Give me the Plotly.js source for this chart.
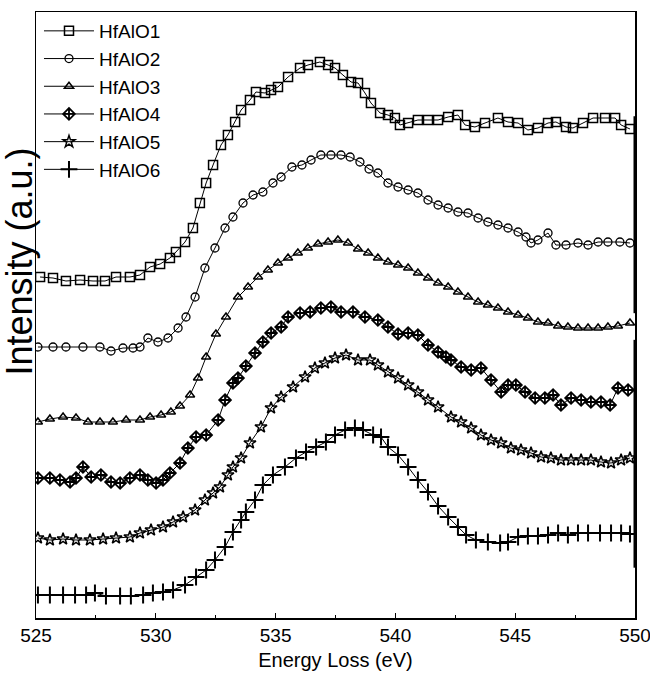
<!DOCTYPE html>
<html>
<head>
<meta charset="utf-8">
<script src="https://cdn.plot.ly/plotly-3.0.1.min.js"></script>
<style>
  html, body { margin: 0; padding: 0; background: #fff; }
  #chart { width: 650px; height: 675px; }
</style>
</head>
<body>
<div id="chart"></div>
<script>
// Energy loss (eV) and intensity (arbitrary units, offset per sample)
const seriesNames = ["HfAlO1", "HfAlO2", "HfAlO3", "HfAlO4", "HfAlO5", "HfAlO6"];

const e1 = [525.17,525.71,526.25,526.84,527.38,527.88,528.34,528.92,529.34,529.76,530.18,530.59,530.84,531.22,531.55,531.84,532.10,532.39,532.72,533.01,533.31,533.56,533.93,534.18,534.56,534.81,535.10,535.52,536.02,536.35,536.85,537.19,537.48,537.81,538.15,538.44,538.73,538.98,539.36,539.69,539.98,540.19,540.53,540.94,541.36,541.78,542.20,542.61,542.91,543.32,543.74,544.28,544.70,545.12,545.53,545.95,546.37,546.70,547.12,547.41,547.83,548.25,548.75,549.17,549.42,549.79];
const i1 = [341,340,337,338,337,337,341,341,343,351,354,360,366,376,390,415,435,453,473,483,496,508,518,526,525,528,531,541,550,553,556,553,550,543,536,535,525,515,505,503,500,493,495,498,498,498,501,503,493,491,495,500,496,495,488,490,495,496,491,490,495,500,500,500,493,489];

const e2 = [525.08,525.71,526.25,526.96,527.67,528.13,528.63,529.05,529.34,529.67,530.09,530.51,530.93,531.26,531.64,532.05,532.47,532.89,533.22,533.64,534.06,534.47,534.89,535.23,535.68,536.10,536.48,536.89,537.31,537.73,538.11,538.52,538.90,539.27,539.69,540.11,540.53,540.94,541.36,541.78,542.20,542.61,543.03,543.45,543.86,544.28,544.70,545.12,545.45,545.66,545.95,546.37,546.70,547.12,547.62,548.04,548.46,548.87,549.37,549.79];
const i2 = [271,271,271,271,271,267,270,270,271,280,276,280,290,301,321,350,370,390,401,415,423,426,435,441,451,453,458,463,463,463,461,456,449,445,435,431,428,425,418,413,410,406,405,400,396,393,390,386,381,375,378,385,373,373,375,373,376,376,376,375];

const e3 = [525.08,525.58,526.13,526.67,527.17,527.67,528.21,528.76,529.34,529.76,530.22,530.63,531.01,531.43,531.76,532.10,532.51,532.93,533.43,533.85,534.27,534.68,535.10,535.52,535.93,536.35,536.77,537.19,537.60,538.02,538.44,538.86,539.27,539.69,540.11,540.53,540.94,541.36,541.78,542.20,542.61,543.03,543.45,543.86,544.28,544.70,545.12,545.53,545.95,546.37,546.79,547.20,547.62,548.04,548.46,548.87,549.29,549.79];
const i3 = [196,199,201,200,196,196,196,198,198,201,203,206,212,223,240,261,284,301,321,331,341,348,355,360,365,370,374,376,378,375,369,365,360,356,353,350,345,340,335,331,326,321,316,313,310,306,303,300,296,295,292,291,290,290,290,291,292,295];

const e4 = [525.08,525.58,526.00,526.42,526.67,526.96,527.30,527.71,528.13,528.51,528.92,529.34,529.67,530.01,530.30,530.59,531.01,531.34,531.68,532.10,532.60,532.89,533.22,533.43,533.76,534.14,534.47,534.81,535.23,535.52,536.02,536.44,536.89,537.31,537.73,538.23,538.73,539.27,539.69,540.11,540.53,540.94,541.36,541.78,542.11,542.32,542.74,543.16,543.57,543.99,544.41,544.70,545.03,545.41,545.83,546.24,546.58,546.91,547.33,547.75,548.16,548.58,548.96,549.29,549.71];
const i4 = [140,140,138,136,140,151,141,143,136,135,140,143,138,135,138,145,155,170,181,183,198,218,235,240,252,265,276,285,291,301,305,306,310,311,306,306,301,298,291,284,285,283,273,266,261,258,251,248,250,238,226,233,233,226,220,220,223,213,220,218,216,216,213,230,228];

const e5 = [525.08,525.58,526.13,526.67,527.25,527.80,528.34,528.92,529.34,529.80,530.30,530.72,531.14,531.64,532.05,532.39,532.68,533.01,533.22,533.56,533.93,534.39,534.81,535.23,535.73,536.23,536.64,537.06,537.48,537.94,538.44,538.94,539.27,539.69,540.11,540.53,540.94,541.36,541.78,542.32,542.74,543.16,543.57,543.99,544.41,544.82,545.24,545.66,546.08,546.49,546.91,547.33,547.75,548.16,548.58,549.00,549.42,549.79];
const i5 = [80,78,79,78,78,79,80,81,85,88,91,96,101,108,118,125,131,143,151,160,175,191,210,221,231,241,250,255,260,263,258,258,253,246,240,233,226,218,211,201,196,190,183,178,175,170,168,165,161,160,158,158,158,158,156,155,158,160];

const e6 = [525.08,525.58,526.13,526.63,527.09,527.46,527.92,528.51,528.96,529.47,529.88,530.30,530.72,531.22,531.68,532.10,532.47,532.89,533.22,533.56,533.76,534.14,534.47,534.89,535.39,535.85,536.27,536.69,537.10,537.48,537.90,538.31,538.65,539.07,539.40,539.69,540.11,540.53,540.94,541.36,541.78,542.20,542.61,542.95,543.36,543.86,544.37,544.70,545.12,545.53,545.95,546.37,546.79,547.20,547.62,548.04,548.54,549.00,549.42,549.79];
const i6 = [23,23,23,23,23,25,22,22,22,23,25,26,28,33,41,48,58,71,86,98,106,118,133,143,151,160,166,171,176,183,188,190,188,183,181,171,163,151,138,126,112,101,91,83,78,76,75,76,81,82,82,83,85,83,85,85,85,85,85,84];

const xTickVals = [525, 530, 535, 540, 545, 550];
const xTickText = ["525", "530", "535", "540", "545", "550"];
const xTitle = "Energy Loss (eV)";
const yTitle = "Intensity (a.u.)";

const energies = [e1, e2, e3, e4, e5, e6];
const intensities = [i1, i2, i3, i4, i5, i6];
const symbols = ["square-open", "circle-open", "triangle-up-open", "diamond-cross-open", "star-open", "cross-thin-open"];
const sizes = [9, 8, 8, 9, 9, 12];
const mlw = [1.5, 1.3, 1.5, 1.8, 1.5, 2];

const FONT = "Liberation Sans, Arial, sans-serif";

const traces = seriesNames.map((name, k) => ({
  type: "scatter",
  mode: "lines+markers",
  name: name,
  x: energies[k],
  y: intensities[k],
  line: { color: "#000", width: 1 },
  marker: { symbol: symbols[k], size: sizes[k], color: "#000", line: { color: "#000", width: mlw[k] } }
}));

const layout = {
  width: 650,
  height: 675,
  margin: { l: 36, r: 15, t: 12, b: 57 },
  paper_bgcolor: "#fff",
  plot_bgcolor: "#fff",
  showlegend: true,
  legend: {
    x: 0.005, y: 1.0, xanchor: "left", yanchor: "top",
    bgcolor: "rgba(0,0,0,0)", borderwidth: 0,
    font: { family: FONT, size: 19, color: "#000" },
    itemwidth: 50,
    tracegroupgap: 0
  },
  xaxis: {
    range: [525, 550],
    tickmode: "array",
    tickvals: xTickVals,
    ticktext: xTickText,
    ticks: "inside",
    ticklen: 5,
    tickwidth: 1,
    tickcolor: "#000",
    ticklabeloverflow: "allow",
    minor: { dtick: 2.5, ticks: "inside", ticklen: 3, tickcolor: "#000" },
    showgrid: false,
    zeroline: false,
    showline: true,
    linecolor: "#000",
    linewidth: 1.5,
    mirror: true,
    tickfont: { family: FONT, size: 19, color: "#000" },
    title: { text: xTitle, font: { family: FONT, size: 20, color: "#000" }, standoff: 7 }
  },
  yaxis: {
    range: [0, 606],
    showticklabels: false,
    ticks: "",
    showgrid: false,
    zeroline: false,
    showline: true,
    linecolor: "#000",
    linewidth: 1.5,
    mirror: true
  },
  annotations: [{
    text: yTitle,
    xref: "paper", yref: "paper",
    x: -0.027, y: 0.588,
    xanchor: "center", yanchor: "middle",
    textangle: -90,
    showarrow: false,
    font: { family: FONT, size: 36, color: "#000" }
  }],
  shapes: [
    { type: "line", xref: "paper", yref: "paper", x0: 1, x1: 1, y0: 0.083, y1: 0.459, line: { color: "#000", width: 3 } },
    { type: "line", xref: "paper", yref: "paper", x0: 1, x1: 1, y0: 0.503, y1: 0.828, line: { color: "#000", width: 3 } }
  ]
};

Plotly.newPlot("chart", traces, layout, { displayModeBar: false, staticPlot: true });
</script>
</body>
</html>
